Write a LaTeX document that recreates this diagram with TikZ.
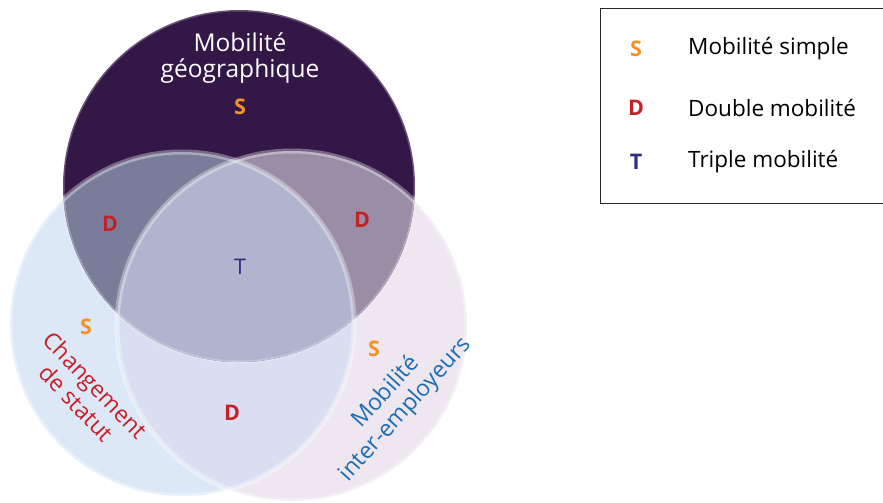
\documentclass[tikz,border=0pt]{standalone}
\usepackage{fontspec}
\setmainfont{Open Sans}
\usepackage{tikz}
\usetikzlibrary{positioning}
\usepackage{xcolor}
\definecolor{geoDark}{HTML}{331747}
\definecolor{statFill}{HTML}{DDE8F6}
\definecolor{empFill}{HTML}{EEE7F0}
\definecolor{statEmp}{HTML}{D9DFF0}
\definecolor{geoStat}{HTML}{797D9A}
\definecolor{geoEmp}{HTML}{9A8DA6}
\definecolor{triFill}{HTML}{B0B4CE}
\definecolor{simpleC}{HTML}{F39325}
\definecolor{doubleC}{HTML}{C4202A}
\definecolor{tripleC}{HTML}{2D2E7F}
\definecolor{empText}{HTML}{1B6DB5}
\newcommand{\geoCirc}{(239,186) circle (176pt)}
\newcommand{\statCirc}{(182,324) circle (172pt)}
\newcommand{\empCirc}{(292,326) circle (175pt)}

\begin{document}
\begin{tikzpicture}[x=1pt, y=-1pt, font=\fontsize{23}{26}\selectfont,
  letter/.style={font=\fontsize{21.5}{24}\selectfont\bfseries, inner sep=0pt},
  keytext/.style={font=\fontsize{22.5}{26}\selectfont, inner sep=0pt, anchor=west}]
  \useasboundingbox (0,0) rectangle (883,503);

  % Two lower circles and their overlap
  \fill[statFill] \statCirc;
  \fill[empFill] \empCirc;
  \begin{scope}
    \clip \statCirc;
    \fill[statEmp] \empCirc;
  \end{scope}

  % Top circle with its overlaps
  \fill[geoDark] \geoCirc;
  \begin{scope}
    \clip \geoCirc;
    \fill[geoStat] \statCirc;
    \fill[geoEmp] \empCirc;
    \clip \statCirc;
    \fill[triFill] \empCirc;
  \end{scope}

  % Light rims
  \draw[white, opacity=.35, line width=5pt] \statCirc;
  \draw[white, opacity=.35, line width=5pt] \empCirc;
  \draw[white, opacity=.25, line width=3pt] \geoCirc;

  % Set labels
  \node[white, align=center, inner sep=0pt, font=\fontsize{24.5}{26}\selectfont] (geoLbl) at (240,58) {Mobilité\\géographique};
  \node[doubleC, align=center, rotate=-46, inner sep=0pt] (statLbl) at (86,394) {Changement\\de statut};
  \node[empText, align=center, rotate=48, inner sep=0pt] (empLbl) at (396,401) {Mobilité\\inter-employeurs};

  % Region letters
  \node[letter, simpleC] (sGeo) at (240,107) {S};
  \node[letter, simpleC] (sStat) at (86,327) {S};
  \node[letter, simpleC] (sEmp) at (374,349) {S};
  \node[letter, doubleC] (dLeft) at (110,224) {D};
  \node[letter, doubleC] (dRight) at (362,220) {D};
  \node[letter, doubleC] (dLow) at (232,413) {D};
  \node[letter, tripleC, font=\fontsize{21.5}{24}\selectfont] (tMid) at (240,267) {T};

  % Legend
  \draw[line width=1pt, black!85] (600.5,8.5) rectangle (900,203);
  \node[letter, simpleC] (keyS) at (636,49) {S};
  \node[letter, doubleC] (keyD) at (636,108) {D};
  \node[letter, tripleC] (keyT) at (636,162) {T};
  \node[keytext] (keySTxt) at (688,49) {Mobilité simple};
  \node[keytext] (keyDTxt) at (688,108) {Double mobilité};
  \node[keytext] (keyTTxt) at (688,162) {Triple mobilité};
\end{tikzpicture}
\end{document}
